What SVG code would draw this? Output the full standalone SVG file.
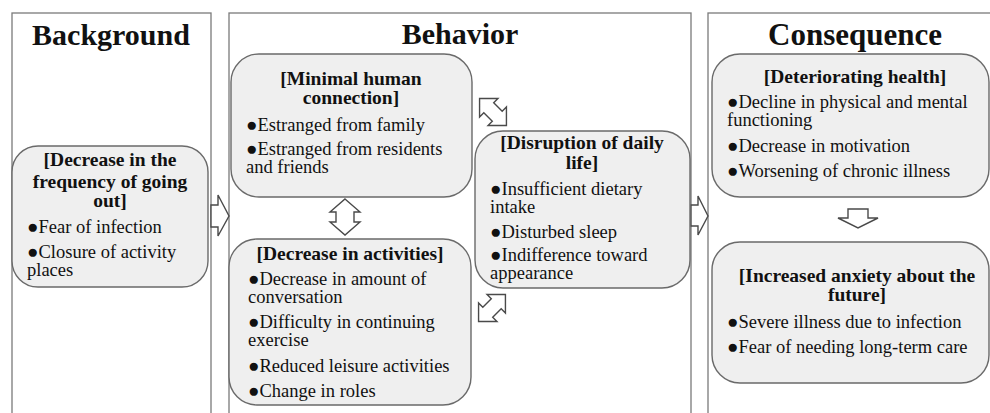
<svg xmlns="http://www.w3.org/2000/svg" width="990" height="413" viewBox="0 0 990 413">
  <style>
    .panel { fill: #ffffff; stroke: #7a7a7a; stroke-width: 1.3; }
    .node { fill: #efefef; stroke: #6a6a6a; stroke-width: 1.4; }
    .arrow { fill: #ffffff; stroke: #4a4a4a; stroke-width: 1.4; stroke-linejoin: miter; }
    .head { font-family: "Liberation Serif", "Times New Roman", serif; font-weight: bold; font-size: 30px; fill: #111; text-anchor: middle; }
    .ttl { font-family: "Liberation Serif", "Times New Roman", serif; font-weight: bold; font-size: 19.5px; fill: #111; text-anchor: middle; }
    .txt { font-family: "Liberation Serif", "Times New Roman", serif; font-size: 18.5px; fill: #111; }
    .b { font-size: 19px; }
  </style>
  <defs>
    <path id="dbl-v" d="M0,-18 L15,-5 L9,-5 L9,5 L15,5 L0,18 L-15,5 L-9,5 L-9,-5 L-15,-5 Z"/>
    <path id="dbl-s" d="M0,-19 L13,-6 L7,-6 L7,6 L13,6 L0,19 L-13,6 L-7,6 L-7,-6 L-13,-6 Z"/>
  </defs>

  <!-- Column panels -->
  <g id="panels">
    <rect class="panel" x="12" y="13" width="199" height="420"/>
    <rect class="panel" x="229" y="13" width="462" height="420"/>
    <rect class="panel" x="708" y="13" width="300" height="420"/>
    <text class="head" x="111" y="45">Background</text>
    <text class="head" x="460" y="44">Behavior</text>
    <text class="head" x="855" y="45" style="font-size:31px">Consequence</text>
  </g>

  <!-- Connectors -->
  <g id="connectors">
    <path class="arrow" d="M211,205 L218,205 L218,195 L229,216 L218,236 L218,227 L211,227 Z"/>
    <path class="arrow" d="M691,205 L698,205 L698,196 L708,216 L698,235 L698,226 L691,226 Z"/>
    <use class="arrow" href="#dbl-v" transform="translate(345,217)"/>
    <use class="arrow" href="#dbl-s" transform="translate(493,112) rotate(-45)"/>
    <use class="arrow" href="#dbl-s" transform="translate(492,308) rotate(45)"/>
    <path class="arrow" d="M848,209 L868,209 L868,218 L878,218 L858,228 L838,218 L848,218 Z"/>
  </g>

  <g id="decrease-going-out">
    <rect class="node" x="12" y="146" width="196" height="141" rx="26"/>
    <text class="ttl" x="110" y="166">[Decrease in the</text>
    <text class="ttl" x="110" y="188">frequency of going</text>
    <text class="ttl" x="110" y="207">out]</text>
    <text class="txt" x="27" y="233"><tspan class="b">●</tspan>Fear of infection</text>
    <text class="txt" x="27" y="258"><tspan class="b">●</tspan>Closure of activity</text>
    <text class="txt" x="27" y="276">places</text>
  </g>

  <g id="minimal-connection">
    <rect class="node" x="231" y="54" width="241" height="143" rx="28"/>
    <text class="ttl" x="351" y="85">[Minimal human</text>
    <text class="ttl" x="351" y="104">connection]</text>
    <text class="txt" x="246" y="131"><tspan class="b">●</tspan>Estranged from family</text>
    <text class="txt" x="246" y="155"><tspan class="b">●</tspan>Estranged from residents</text>
    <text class="txt" x="246" y="173">and friends</text>
  </g>

  <g id="decrease-activities">
    <rect class="node" x="229" y="239" width="242" height="166" rx="28"/>
    <text class="ttl" x="350" y="260">[Decrease in activities]</text>
    <text class="txt" x="248" y="285"><tspan class="b">●</tspan>Decrease in amount of</text>
    <text class="txt" x="248" y="303">conversation</text>
    <text class="txt" x="248" y="328"><tspan class="b">●</tspan>Difficulty in continuing</text>
    <text class="txt" x="248" y="346">exercise</text>
    <text class="txt" x="248" y="372"><tspan class="b">●</tspan>Reduced leisure activities</text>
    <text class="txt" x="248" y="397"><tspan class="b">●</tspan>Change in roles</text>
  </g>

  <g id="daily-life">
    <rect class="node" x="475" y="131" width="215" height="157" rx="28"/>
    <text class="ttl" x="582" y="149">[Disruption of daily</text>
    <text class="ttl" x="582" y="169">life]</text>
    <text class="txt" x="490" y="195"><tspan class="b">●</tspan>Insufficient dietary</text>
    <text class="txt" x="490" y="213">intake</text>
    <text class="txt" x="490" y="238"><tspan class="b">●</tspan>Disturbed sleep</text>
    <text class="txt" x="490" y="261"><tspan class="b">●</tspan>Indifference toward</text>
    <text class="txt" x="490" y="279">appearance</text>
  </g>

  <g id="deteriorating-health">
    <rect class="node" x="712" y="54" width="277" height="143" rx="28"/>
    <text class="ttl" x="855" y="83">[Deteriorating health]</text>
    <text class="txt" x="727" y="108"><tspan class="b">●</tspan>Decline in physical and mental</text>
    <text class="txt" x="727" y="126">functioning</text>
    <text class="txt" x="727" y="152"><tspan class="b">●</tspan>Decrease in motivation</text>
    <text class="txt" x="727" y="177"><tspan class="b">●</tspan>Worsening of chronic illness</text>
  </g>

  <g id="anxiety-future">
    <rect class="node" x="712" y="242" width="277" height="141" rx="28"/>
    <text class="ttl" x="857" y="282">[Increased anxiety about the</text>
    <text class="ttl" x="857" y="301">future]</text>
    <text class="txt" x="727" y="328"><tspan class="b">●</tspan>Severe illness due to infection</text>
    <text class="txt" x="727" y="353"><tspan class="b">●</tspan>Fear of needing long-term care</text>
  </g>
</svg>
